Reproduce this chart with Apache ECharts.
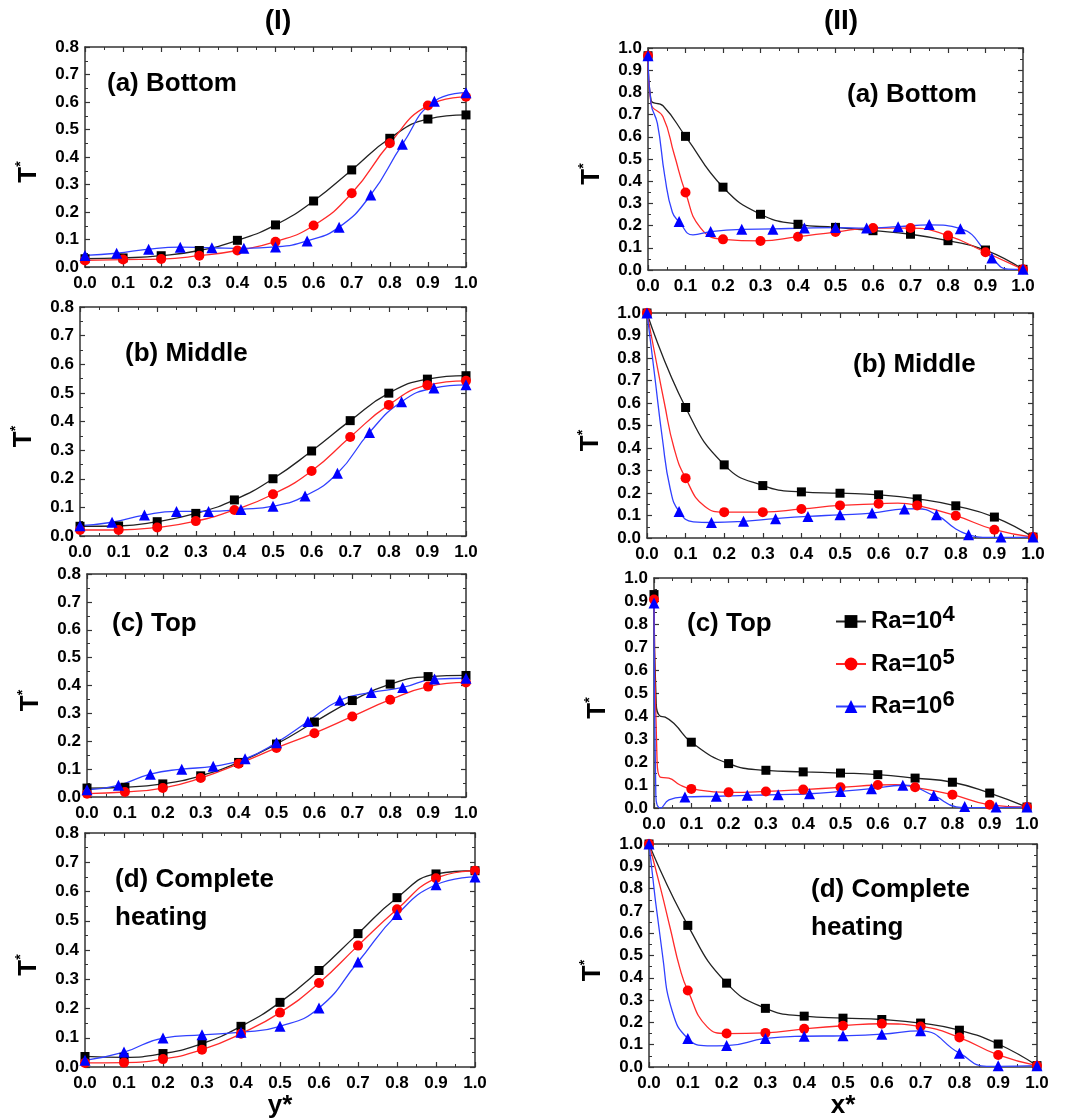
<!DOCTYPE html>
<html>
<head>
<meta charset="utf-8">
<script src="https://cdn.jsdelivr.net/npm/echarts@6/dist/echarts.min.js"></script>
<style>
  html, body { margin: 0; padding: 0; background: #ffffff; }
  #chart { width: 1071px; height: 1120px; }
</style>
</head>
<body>
<div id="chart"></div>
<script>
// Marker positions along the dimensionless coordinate
const xTenths = [0, 0.1, 0.2, 0.3, 0.4, 0.5, 0.6, 0.7, 0.8, 0.9, 1.0];
const xTwelfths = [0, 0.083, 0.167, 0.25, 0.333, 0.417, 0.5, 0.583, 0.667, 0.75, 0.833, 0.917, 1.0];

// Rayleigh numbers of the three cases (legend exponents)
const raExponents = ['4', '5', '6'];

// Column (I): T* versus y*
const yBottomRa4 = [0.030, 0.033, 0.041, 0.060, 0.097, 0.153, 0.240, 0.353, 0.468, 0.538, 0.553];
const yBottomRa5 = [0.024, 0.027, 0.029, 0.041, 0.060, 0.092, 0.151, 0.268, 0.450, 0.587, 0.619];
const yBottomRa6 = [0.042, 0.050, 0.065, 0.072, 0.070, 0.068, 0.073, 0.095, 0.145, 0.262, 0.446, 0.603, 0.634];

const yMiddleRa4 = [0.034, 0.035, 0.050, 0.079, 0.126, 0.200, 0.297, 0.403, 0.499, 0.548, 0.560];
const yMiddleRa5 = [0.021, 0.021, 0.030, 0.052, 0.091, 0.146, 0.227, 0.346, 0.458, 0.527, 0.542];
const yMiddleRa6 = [0.036, 0.048, 0.073, 0.086, 0.086, 0.093, 0.104, 0.140, 0.219, 0.362, 0.469, 0.517, 0.528];

const yTopRa4 = [0.032, 0.035, 0.047, 0.076, 0.124, 0.190, 0.269, 0.346, 0.405, 0.432, 0.436];
const yTopRa5 = [0.012, 0.018, 0.032, 0.068, 0.119, 0.176, 0.229, 0.289, 0.349, 0.396, 0.411];
const yTopRa6 = [0.026, 0.042, 0.082, 0.100, 0.110, 0.137, 0.195, 0.271, 0.347, 0.375, 0.393, 0.423, 0.426];

const yFullRa4 = [0.036, 0.033, 0.046, 0.080, 0.139, 0.221, 0.330, 0.456, 0.579, 0.660, 0.671];
const yFullRa5 = [0.014, 0.015, 0.027, 0.059, 0.114, 0.186, 0.287, 0.415, 0.539, 0.645, 0.671];
const yFullRa6 = [0.023, 0.051, 0.099, 0.110, 0.119, 0.139, 0.202, 0.359, 0.521, 0.623, 0.650];

// Column (II): T* versus x*
const xBottomRa4 = [0.965, 0.602, 0.373, 0.251, 0.206, 0.192, 0.177, 0.161, 0.132, 0.090, 0.003];
const xBottomRa5 = [0.965, 0.349, 0.138, 0.131, 0.150, 0.171, 0.189, 0.189, 0.155, 0.080, 0.003];
const xBottomRa6 = [0.965, 0.218, 0.173, 0.183, 0.183, 0.189, 0.191, 0.189, 0.195, 0.205, 0.186, 0.054, 0.003];

const xMiddleRa4 = [1.000, 0.580, 0.325, 0.233, 0.205, 0.199, 0.192, 0.174, 0.143, 0.093, 0.004];
const xMiddleRa5 = [1.000, 0.266, 0.115, 0.115, 0.129, 0.145, 0.152, 0.145, 0.099, 0.037, 0.004];
const xMiddleRa6 = [1.000, 0.118, 0.069, 0.074, 0.086, 0.096, 0.103, 0.111, 0.129, 0.103, 0.015, 0.004, 0.004];

const xTopRa4 = [0.928, 0.286, 0.193, 0.164, 0.157, 0.152, 0.145, 0.130, 0.112, 0.065, 0.004];
const xTopRa5 = [0.906, 0.083, 0.068, 0.072, 0.080, 0.090, 0.100, 0.090, 0.058, 0.014, 0.004];
const xTopRa6 = [0.891, 0.048, 0.051, 0.055, 0.058, 0.062, 0.072, 0.084, 0.099, 0.054, 0.007, 0.004, 0.004];

const xFullRa4 = [1.000, 0.635, 0.376, 0.263, 0.228, 0.219, 0.213, 0.197, 0.165, 0.103, 0.006];
const xFullRa5 = [1.000, 0.343, 0.150, 0.153, 0.171, 0.185, 0.194, 0.182, 0.132, 0.054, 0.006];
const xFullRa6 = [1.000, 0.128, 0.096, 0.128, 0.138, 0.140, 0.147, 0.162, 0.062, 0.006, 0.006];

// Fitted profile traces for column (II), [x*, T*]
const curveBottomRa4 = [[0, 0.965], [0.008, 0.765], [0.04, 0.74], [0.1, 0.602], [0.2, 0.373], [0.3, 0.251], [0.4, 0.206], [0.5, 0.192], [0.6, 0.177], [0.7, 0.161], [0.8, 0.132], [0.9, 0.09], [1.0, 0.003]];
const curveBottomRa5 = [[0, 0.965], [0.008, 0.75], [0.04, 0.69], [0.07, 0.52], [0.1, 0.349], [0.14, 0.19], [0.2, 0.138], [0.3, 0.131], [0.4, 0.15], [0.5, 0.171], [0.6, 0.189], [0.7, 0.189], [0.8, 0.155], [0.9, 0.08], [1.0, 0.003]];
const curveBottomRa6 = [[0, 0.965], [0.008, 0.75], [0.025, 0.66], [0.045, 0.42], [0.065, 0.26], [0.083, 0.218], [0.12, 0.158], [0.167, 0.173], [0.25, 0.183], [0.333, 0.185], [0.417, 0.189], [0.5, 0.191], [0.583, 0.189], [0.667, 0.195], [0.75, 0.203], [0.833, 0.186], [0.917, 0.054], [0.96, 0.004], [1.0, 0.003]];

const curveMiddleRa5 = [[0, 1.0], [0.02, 0.82], [0.045, 0.6], [0.07, 0.4], [0.1, 0.266], [0.15, 0.14], [0.2, 0.115], [0.3, 0.115], [0.4, 0.129], [0.5, 0.145], [0.6, 0.152], [0.65, 0.155], [0.7, 0.145], [0.8, 0.099], [0.9, 0.037], [1.0, 0.004]];
const curveMiddleRa6 = [[0, 1.0], [0.02, 0.72], [0.04, 0.44], [0.06, 0.22], [0.083, 0.118], [0.12, 0.072], [0.167, 0.069], [0.25, 0.074], [0.333, 0.086], [0.417, 0.096], [0.5, 0.103], [0.583, 0.111], [0.667, 0.129], [0.7, 0.13], [0.75, 0.103], [0.8, 0.04], [0.833, 0.015], [0.87, 0.003], [0.917, 0.003], [1.0, 0.004]];

const curveTopRa4 = [[0, 0.928], [0.006, 0.45], [0.016, 0.4], [0.03, 0.395], [0.055, 0.365], [0.1, 0.286], [0.2, 0.193], [0.3, 0.164], [0.4, 0.157], [0.5, 0.152], [0.6, 0.145], [0.7, 0.13], [0.8, 0.112], [0.9, 0.065], [1.0, 0.004]];
const curveTopRa5 = [[0, 0.906], [0.008, 0.22], [0.016, 0.135], [0.04, 0.13], [0.07, 0.1], [0.1, 0.083], [0.2, 0.068], [0.3, 0.072], [0.4, 0.08], [0.5, 0.09], [0.6, 0.1], [0.65, 0.102], [0.7, 0.09], [0.8, 0.058], [0.9, 0.014], [1.0, 0.004]];
const curveTopRa6 = [[0, 0.891], [0.005, 0.05], [0.018, 0.0], [0.04, 0.035], [0.083, 0.048], [0.167, 0.051], [0.25, 0.055], [0.333, 0.058], [0.417, 0.062], [0.5, 0.072], [0.583, 0.084], [0.667, 0.099], [0.75, 0.054], [0.81, 0.005], [0.833, 0.002], [0.917, 0.002], [1.0, 0.004]];

const curveFullRa5 = [[0, 1.0], [0.03, 0.8], [0.055, 0.62], [0.08, 0.44], [0.1, 0.343], [0.15, 0.18], [0.2, 0.15], [0.3, 0.153], [0.4, 0.171], [0.5, 0.185], [0.6, 0.194], [0.7, 0.182], [0.8, 0.132], [0.9, 0.054], [1.0, 0.006]];
const curveFullRa6 = [[0, 1.0], [0.035, 0.5], [0.06, 0.25], [0.1, 0.128], [0.15, 0.095], [0.2, 0.096], [0.3, 0.128], [0.4, 0.138], [0.5, 0.14], [0.6, 0.147], [0.7, 0.162], [0.8, 0.062], [0.87, 0.003], [0.9, 0.003], [1.0, 0.006]];

// ---------------------------------------------------------------------------

const FONT = '"Liberation Sans", Arial, Helvetica, sans-serif';
const AXIS_COLOR = '#333333';

const caseStyles = [
  { color: '#000000', line: '#222222', symbol: 'rect', size: 9 },
  { color: '#ff0000', line: '#ff2a2a', symbol: 'circle', size: 10 },
  { color: '#0000ff', line: '#3040ff', symbol: 'triangle', size: 11 }
];
const caseNames = raExponents.map(e => 'Ra=10^' + e);

function pairs(xs, ys) { return xs.map((x, i) => [x, ys[i]]); }

// One entry per panel: grid box, vertical range, markers and traces per case
const panels = [
  { box: [85, 47, 381, 220], ymax: 0.8, label: '(a) Bottom', labelPos: [102, 60],
    markers: [pairs(xTenths, yBottomRa4), pairs(xTenths, yBottomRa5), pairs(xTwelfths, yBottomRa6)] },
  { box: [80, 307, 386, 229], ymax: 0.8, label: '(b) Middle', labelPos: [120, 330],
    markers: [pairs(xTenths, yMiddleRa4), pairs(xTenths, yMiddleRa5), pairs(xTwelfths, yMiddleRa6)] },
  { box: [87, 574, 379, 223], ymax: 0.8, label: '(c) Top', labelPos: [107, 600],
    markers: [pairs(xTenths, yTopRa4), pairs(xTenths, yTopRa5), pairs(xTwelfths, yTopRa6)] },
  { box: [85, 833, 390, 234], ymax: 0.8, label: '(d) Complete\nheating', labelPos: [110, 856],
    markers: [pairs(xTenths, yFullRa4), pairs(xTenths, yFullRa5), pairs(xTenths, yFullRa6)], xName: 'y*', xNameGap: 22 },
  { box: [648, 48, 375, 222], ymax: 1.0, label: '(a) Bottom', labelPos: [842, 71],
    markers: [pairs(xTenths, xBottomRa4), pairs(xTenths, xBottomRa5), pairs(xTwelfths, xBottomRa6)],
    curves: [curveBottomRa4, curveBottomRa5, curveBottomRa6] },
  { box: [647, 313, 386, 225], ymax: 1.0, label: '(b) Middle', labelPos: [848, 341],
    markers: [pairs(xTenths, xMiddleRa4), pairs(xTenths, xMiddleRa5), pairs(xTwelfths, xMiddleRa6)],
    curves: [null, curveMiddleRa5, curveMiddleRa6] },
  { box: [654, 578, 373, 230], ymax: 1.0, label: '(c) Top', labelPos: [682, 600],
    markers: [pairs(xTenths, xTopRa4), pairs(xTenths, xTopRa5), pairs(xTwelfths, xTopRa6)],
    curves: [curveTopRa4, curveTopRa5, curveTopRa6] },
  { box: [649, 844, 388, 227], ymax: 1.0, label: '(d) Complete\nheating', labelPos: [806, 866],
    markers: [pairs(xTenths, xFullRa4), pairs(xTenths, xFullRa5), pairs(xTenths, xFullRa6)],
    curves: [null, curveFullRa5, curveFullRa6], xName: 'x*', xNameGap: 26 }
];

const tickLabel = {
  fontFamily: FONT, fontSize: 17, fontWeight: 'bold', color: '#000000',
  formatter: v => v.toFixed(1), showMinLabel: true, showMaxLabel: true
};
const axisLine = { show: true, onZero: false, lineStyle: { color: AXIS_COLOR, width: 1.5 } };
const axisTick = { show: true, inside: true, length: 5, lineStyle: { color: AXIS_COLOR, width: 1.2 } };
const minorTick = { show: true, splitNumber: 2, length: 3, lineStyle: { color: AXIS_COLOR, width: 1 } };

const grids = [], xAxes = [], yAxes = [], series = [], titles = [];

titles.push({ text: '(I)', left: 273, top: 2, textAlign: 'center',
  textStyle: { fontFamily: FONT, fontSize: 28, fontWeight: 'bold', color: '#000' } });
titles.push({ text: '(II)', left: 836, top: 2, textAlign: 'center',
  textStyle: { fontFamily: FONT, fontSize: 28, fontWeight: 'bold', color: '#000' } });

panels.forEach((p, gi) => {
  const [l, t, w, h] = p.box;
  grids.push({ left: l, top: t, width: w, height: h, containLabel: false });

  const xBase = { type: 'value', gridIndex: gi, min: 0, max: 1, interval: 0.1,
    axisLine, axisTick, minorTick, splitLine: { show: false } };
  xAxes.push(Object.assign({}, xBase, {
    position: 'bottom',
    axisLabel: Object.assign({ margin: 8 }, tickLabel),
    name: p.xName || '', nameLocation: 'middle', nameGap: p.xNameGap || 30,
    nameTextStyle: { fontFamily: FONT, fontSize: 26, fontWeight: 'bold', color: '#000' }
  }));
  xAxes.push(Object.assign({}, xBase, { position: 'top', axisLabel: { show: false } }));

  const yBase = { type: 'value', gridIndex: gi, min: 0, max: p.ymax, interval: 0.1,
    axisLine, axisTick, minorTick, splitLine: { show: false } };
  yAxes.push(Object.assign({}, yBase, {
    position: 'left',
    axisLabel: Object.assign({ margin: 6 }, tickLabel),
    name: '{t|T}{s|*}', nameLocation: 'middle', nameGap: 41,
    nameTextStyle: {
      padding: [0, 30, 0, 0],
      rich: {
        t: { fontFamily: FONT, fontSize: 26, fontWeight: 'bold', color: '#000', lineHeight: 30 },
        s: { fontFamily: FONT, fontSize: 14, fontWeight: 'bold', color: '#000', lineHeight: 14, verticalAlign: 'top' }
      }
    }
  }));
  yAxes.push(Object.assign({}, yBase, { position: 'right', axisLabel: { show: false } }));

  titles.push({ text: p.label, left: p.labelPos[0], top: p.labelPos[1],
    textStyle: { fontFamily: FONT, fontSize: 26, fontWeight: 'bold', color: '#000', lineHeight: 38 } });

  // fitted traces first, markers on top
  caseStyles.forEach((cs, k) => {
    const trace = (p.curves && p.curves[k]) ? p.curves[k] : p.markers[k];
    series.push({
      type: 'line', name: caseNames[k], xAxisIndex: gi * 2, yAxisIndex: gi * 2,
      data: trace, smooth: 0.5,
      symbol: cs.symbol, symbolSize: cs.size, showSymbol: false,
      lineStyle: { color: cs.line, width: 1.3 },
      itemStyle: { color: cs.color },
      z: 2, silent: true, animation: false
    });
  });
  caseStyles.forEach((cs, k) => {
    series.push({
      type: 'scatter', name: caseNames[k] + ' points', xAxisIndex: gi * 2, yAxisIndex: gi * 2,
      data: p.markers[k], symbol: cs.symbol, symbolSize: cs.size,
      itemStyle: { color: cs.color, opacity: 1 },
      z: 3 + k, silent: true, animation: false, clip: false
    });
  });
});

const chart = echarts.init(document.getElementById('chart'), null, { renderer: 'canvas' });
chart.setOption({
  backgroundColor: '#ffffff',
  animation: false,
  title: titles,
  grid: grids,
  xAxis: xAxes,
  yAxis: yAxes,
  legend: {
    data: caseNames,
    orient: 'vertical',
    left: 830, top: 599,
    itemWidth: 30, itemHeight: 16, itemGap: 13,
    selectedMode: false,
    formatter: name => '{b|Ra=10}{s|' + name.split('^')[1] + '}',
    textStyle: {
      rich: {
        b: { fontFamily: FONT, fontSize: 24, fontWeight: 'bold', color: '#000', lineHeight: 35 },
        s: { fontFamily: FONT, fontSize: 22, fontWeight: 'bold', color: '#000', lineHeight: 20, verticalAlign: 'top' }
      }
    }
  },
  series
});
</script>
</body>
</html>
